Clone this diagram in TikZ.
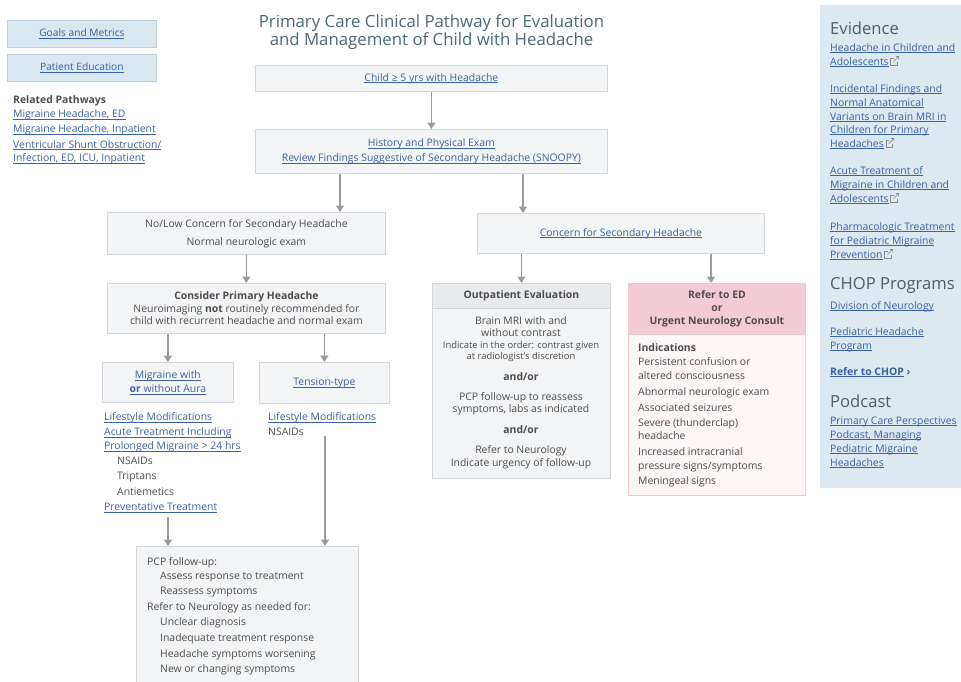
\documentclass[tikz,border=0pt]{standalone}
\usepackage{fontspec}
\setmainfont{Open Sans}
\usetikzlibrary{arrows.meta}

\definecolor{linkblue}{HTML}{3A62A6}
\definecolor{bodytext}{HTML}{4D4D4D}
\definecolor{boxfill}{HTML}{F3F4F6}
\definecolor{boxline}{HTML}{D3D6DA}
\definecolor{headfill}{HTML}{E8EAED}
\definecolor{titlecol}{HTML}{4E6873}
\definecolor{sidefill}{HTML}{DDE9F1}
\definecolor{navfill}{HTML}{D9E7F0}
\definecolor{navline}{HTML}{BCD0DD}
\definecolor{arrowgray}{HTML}{9B9B9B}
\definecolor{pinkhead}{HTML}{F4CAD6}
\definecolor{pinkbody}{HTML}{FCF6F6}
\definecolor{pinkline}{HTML}{EBC9CE}
\definecolor{sidehead}{HTML}{505D63}
\definecolor{icongray}{HTML}{8C8C8C}

% underlined link text
\newsavebox{\lnkbox}
\newcommand{\lnk}[1]{\sbox{\lnkbox}{#1}\rlap{\rule[-1.7pt]{\wd\lnkbox}{0.45pt}}\usebox{\lnkbox}}
% small "opens in new window" icon
\newcommand{\extico}{\,\tikz[baseline=0pt,x=1pt,y=1pt]{%
  \draw[icongray,line width=0.6pt] (3.5,6.5) -- (0,6.5) -- (0,0) -- (6.5,0) -- (6.5,3);
  \draw[icongray,line width=0.6pt] (3,3.5) -- (8,8.5) (5.2,8.5) -- (8,8.5) -- (8,5.7);}}
% a column of single-line text nodes: name prefix, style, x, list of y/text
\newcommand{\stack}[4]{\foreach \stY/\stT [count=\stI] in {#4}{\node[#2] (#1\stI) at (#3,\stY) {\stT};}}

\newcommand{\bodyfont}{\fontsize{10.4}{12}\selectfont}
\tikzset{
  txt/.style={font=\bodyfont, text=bodytext, inner sep=0pt},
  btxt/.style={font=\bodyfont\bfseries, text=bodytext, inner sep=0pt},
  ltxt/.style={font=\bodyfont, text=linkblue, inner sep=0pt},
  stxt/.style={font=\fontsize{9.4}{11}\selectfont, text=bodytext, inner sep=0pt},
  box/.style={draw=boxline, fill=boxfill, line width=0.8pt, anchor=north west,
              inner sep=0pt, align=center},
  navbox/.style={draw=navline, fill=navfill, line width=0.8pt, anchor=north west,
              inner sep=0pt, font=\fontsize{10.2}{12}\selectfont, text=linkblue},
  arr/.style={draw=arrowgray, line width=1.3pt, -{Triangle[width=8pt,length=6.5pt]}},
  sidehd/.style={font=\fontsize{16.6}{18}\selectfont, text=sidehead, inner sep=0pt,
              anchor=base west},
}

\begin{document}
\begin{tikzpicture}[x=1pt,y=-1pt]
\useasboundingbox (0,0) rectangle (961,681);
\fill[white] (0,0) rectangle (961,681);

% ---------- title ----------
\node[font=\fontsize{16.8}{17.5}\selectfont, text=titlecol, align=center, inner sep=0pt]
  (title) at (431.5,32) {Primary Care Clinical Pathway for Evaluation\\and Management of Child with Headache};

% ---------- left navigation ----------
\node[navbox, minimum width=149pt, minimum height=27pt] (goals) at (7,20) {\lnk{Goals and Metrics}};
\node[navbox, minimum width=149pt, minimum height=27pt] (educ) at (7,54) {\lnk{Patient Education}};
\node[btxt, anchor=base west] (related) at (13,103) {Related Pathways};
\stack{rel}{ltxt, anchor=base west}{13}{117.5/{\lnk{Migraine Headache, ED}},
  132.5/{\lnk{Migraine Headache, Inpatient}},
  148/{\lnk{Ventricular Shunt Obstruction/}},
  161.5/{\lnk{Infection, ED, ICU, Inpatient}}}

% ---------- main flow ----------
\node[box, minimum width=352pt, minimum height=26pt, font=\bodyfont, text=linkblue]
  (child) at (255,65) {\lnk{Child ≥ 5 yrs with Headache}};
\node[box, minimum width=352pt, minimum height=44pt, font=\fontsize{10.4}{15}\selectfont, text=linkblue]
  (hist) at (255,129) {\lnk{History and Physical Exam}\\\lnk{Review Findings Suggestive of Secondary Headache (SNOOPY)}};

\node[box, minimum width=278pt, minimum height=42pt, font=\fontsize{10.4}{18}\selectfont, text=bodytext]
  (nolow) at (107,212) {No/Low Concern for Secondary Headache\\Normal neurologic exam};
\node[box, minimum width=287pt, minimum height=40pt, font=\bodyfont, text=linkblue]
  (concern) at (477,213) {\lnk{Concern for Secondary Headache}};

\node[box, minimum width=278pt, minimum height=50pt, font=\fontsize{10.4}{12.5}\selectfont, text=bodytext]
  (consider) at (107,283) {\textbf{Consider Primary Headache}\\Neuroimaging \textbf{not} routinely recommended for\\child with recurrent headache and normal exam};

\node[box, minimum width=131pt, minimum height=40pt, font=\fontsize{10.4}{14}\selectfont, text=linkblue]
  (migraine) at (102,362) {\lnk{Migraine with}\\\lnk{\textbf{or} without Aura}};
\node[box, minimum width=130pt, minimum height=41pt, font=\bodyfont, text=linkblue]
  (tension) at (259,362) {\lnk{Tension-type}};

% treatment lists
\stack{mig}{ltxt, anchor=base west}{104}{420.5/{\lnk{Lifestyle Modifications}},
  435.5/{\lnk{Acute Treatment Including}},
  449.5/{\lnk{Prolonged Migraine > 24 hrs}}}
\stack{migdrug}{txt, anchor=base west}{117}{464.5/NSAIDs, 479.5/Triptans, 495/Antiemetics}
\node[ltxt, anchor=base west] (prevent) at (104,510.5) {\lnk{Preventative Treatment}};
\node[ltxt, anchor=base west] (tenlife) at (268,420.5) {\lnk{Lifestyle Modifications}};
\node[txt, anchor=base west] (tennsaid) at (268,435.5) {NSAIDs};

% follow-up box (runs off the lower edge)
\node[box, minimum width=222pt, minimum height=150pt] (pcp) at (136,546) {};
\stack{pcpa}{txt, anchor=base west}{147}{565.5/{PCP follow-up:}, 610.5/{Refer to Neurology as needed for:}}
\stack{pcpb}{txt, anchor=base west}{160}{579.5/{Assess response to treatment},
  594.5/{Reassess symptoms}, 625.5/{Unclear diagnosis},
  641.5/{Inadequate treatment response}, 657/{Headache symptoms worsening},
  672.5/{New or changing symptoms}}

% outpatient evaluation
\node[box, minimum width=178pt, minimum height=195pt] (outpt) at (432,283) {};
\node[draw=boxline, fill=headfill, line width=0.8pt, anchor=north west, inner sep=0pt,
      minimum width=178pt, minimum height=25pt, font=\bodyfont\bfseries, text=bodytext]
  (outhead) at (432,283) {Outpatient Evaluation};
\stack{outa}{txt, anchor=base}{521}{324.5/{Brain MRI with and}, 336.5/{without contrast}}
\stack{outs}{stxt, anchor=base}{521}{348.5/{Indicate in the order: contrast given},
  359.5/{at radiologist's discretion}}
\stack{outb}{btxt, anchor=base}{521}{380.5/{and/or}, 433.5/{and/or}}
\stack{outc}{txt, anchor=base}{521}{400.5/{PCP follow-up to reassess},
  412.5/{symptoms, labs as indicated}, 453.5/{Refer to Neurology},
  466.5/{Indicate urgency of follow-up}}

% emergency referral
\node[draw=pinkline, fill=pinkbody, line width=0.8pt, anchor=north west, inner sep=0pt,
      minimum width=177pt, minimum height=212pt] (refer) at (628,283) {};
\node[draw=pinkline, fill=pinkhead, line width=0.8pt, anchor=north west, inner sep=0pt, align=center,
      minimum width=177pt, minimum height=51pt, font=\fontsize{10.4}{13}\selectfont\bfseries, text=bodytext]
  (referhead) at (628,283) {Refer to ED\\or\\Urgent Neurology Consult};
\node[btxt, anchor=base west] (indic) at (638,351.5) {Indications};
\stack{ind}{txt, anchor=base west}{638}{365.5/{Persistent confusion or},
  379.5/{altered consciousness}, 395.5/{Abnormal neurologic exam},
  411.5/{Associated seizures}, 426.5/{Severe (thunderclap)}, 439.5/{headache},
  455.5/{Increased intracranial}, 469.5/{pressure signs/symptoms},
  484.5/{Meningeal signs}}

% ---------- connectors ----------
\coordinate (xL) at (340,0);
\coordinate (xR) at (523,0);
\coordinate (xRef) at (711,0);
\coordinate (mTail) at (168,517);
\coordinate (tTail) at (325,436);
\draw[arr] (child.south) -- (hist.north);
\draw[arr] (hist.south -| xL) -- (nolow.north -| xL);
\draw[arr] (hist.south -| xR) -- (concern.north -| xR);
\draw[arr] (nolow.south) -- (consider.north);
\draw[arr] (consider.south -| migraine.north) -- (migraine.north);
\draw[arr] (consider.south -| tension.north) -- (tension.north);
\draw[arr] (concern.south -| outpt.north) -- (outpt.north);
\draw[arr] (concern.south -| xRef) -- (refer.north -| xRef);
\draw[arr] (mTail) -- (mTail |- pcp.north);
\draw[arr] (tTail) -- (tTail |- pcp.north);

% ---------- right-hand resource panel ----------
\node[fill=sidefill, anchor=north west, inner sep=0pt, minimum width=141pt, minimum height=483pt]
  (side) at (820,5) {};
\node[sidehd] (evid) at (830,34.5) {Evidence};
\stack{ev}{ltxt, anchor=base west}{830}{51/{\lnk{Headache in Children and}},
  65/{\lnk{Adolescents}\extico},
  92/{\lnk{Incidental Findings and}}, 106/{\lnk{Normal Anatomical}},
  120/{\lnk{Variants on Brain MRI in}}, 133/{\lnk{Children for Primary}},
  147/{\lnk{Headaches}\extico},
  174/{\lnk{Acute Treatment of}}, 188/{\lnk{Migraine in Children and}},
  202/{\lnk{Adolescents}\extico},
  230/{\lnk{Pharmacologic Treatment}}, 244/{\lnk{for Pediatric Migraine}},
  258/{\lnk{Prevention}\extico}}
\node[sidehd] (chop) at (830,289) {CHOP Programs};
\stack{prog}{ltxt, anchor=base west}{830}{309/{\lnk{Division of Neurology}},
  335/{\lnk{Pediatric Headache}}, 349/{\lnk{Program}}}
\node[ltxt, font=\bodyfont\bfseries, anchor=base west] (referchop) at (830,375) {\lnk{Refer to CHOP} ›};
\node[sidehd] (podcast) at (830,407) {Podcast};
\stack{pod}{ltxt, anchor=base west}{830}{424/{\lnk{Primary Care Perspectives}},
  438/{\lnk{Podcast, Managing}}, 452/{\lnk{Pediatric Migraine}},
  466/{\lnk{Headaches}}}
\end{tikzpicture}
\end{document}
